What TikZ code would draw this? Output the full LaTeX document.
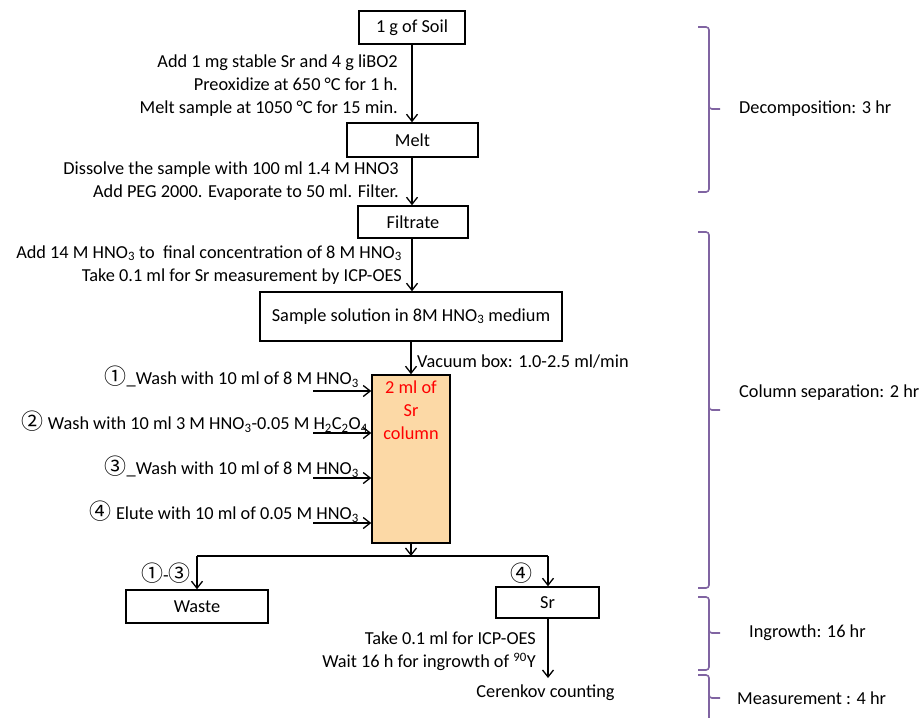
\documentclass[tikz,border=0pt]{standalone}
\usepackage{fontspec}
\setmainfont{Carlito}
\newfontfamily\circfont[Scale=1.2]{Noto Sans CJK JP}
\usetikzlibrary{arrows.meta}
\definecolor{colfill}{HTML}{FCD9A6}
\definecolor{bracecol}{HTML}{8064A2}
\newcommand{\cn}[1]{{\circfont #1}}
\newcommand{\sub}[1]{\textsubscript{#1}}
\begin{document}
\begin{tikzpicture}[x=1pt,y=-1pt,
  font=\fontsize{18.3}{23}\selectfont,
  box/.style={draw=black,line width=1.5pt,minimum height=#1,inner sep=0pt},
  box/.default=33pt,
  lbl/.style={inner sep=0pt,align=right},
  flow/.style={line width=1.5pt,-{Straight Barb[length=7pt,width=11pt,line width=1.3pt]}},
  plain/.style={line width=1.5pt},
  brace/.style={draw=bracecol,line width=1.6pt,rounded corners=3pt},
  btext/.style={inner sep=0pt,anchor=west}]
\useasboundingbox (0,0) rectangle (920,718);

% boxes
\node[box=33pt,minimum width=106pt] (soil) at (412,27.5) {1 g of Soil};
\node[box=34pt,minimum width=131pt] (melt) at (412.5,140) {Melt};
\node[box=32pt,minimum width=110pt] (filt) at (413,222) {Filtrate};
\node[box=49pt,minimum width=302pt] (sample) at (411,316.5) {Sample solution in 8M HNO\sub{3} medium};
\node[box=168pt,minimum width=78pt,fill=colfill] (column) at (411,459) {};
\node[inner sep=0pt,align=center,text=red] (coltext) at (411,410) {2 ml of\\Sr\\column};
\node[box=33pt,minimum width=142pt] (waste) at (197,606.5) {Waste};
\node[box=31pt,minimum width=103pt] (sr) at (547.5,602.5) {Sr};
\node[inner sep=0pt] (ceren) at (545.5,693) {Cerenkov counting};

% step labels
\node[lbl,anchor=east] (t1) at (398,86) {Add 1 mg stable Sr and 4 g liBO2\\Preoxidize at 650 °C for 1 h.\\Melt sample at 1050 °C for 15 min.};
\node[lbl,anchor=east] (t2) at (399,181.5) {Dissolve the sample with 100 ml 1.4 M HNO3\\Add PEG 2000. Evaporate to 50 ml. Filter.};
\node[lbl,anchor=east] (t3) at (402,265) {Add 14 M HNO\sub{3} to\ \ final concentration of 8 M HNO\sub{3}\\Take 0.1 ml for Sr measurement by ICP-OES};
\node[inner sep=0pt,anchor=west] (vac) at (417,362) {Vacuum box: 1.0-2.5 ml/min};
\node[lbl,anchor=east] (w1) at (359,377) {\cn{①}\_Wash with 10 ml of 8 M HNO\sub{3}};
\node[lbl,anchor=east] (w2) at (368,422) {\cn{②} Wash with 10 ml 3 M HNO\sub{3}-0.05 M H\sub{2}C\sub{2}O\sub{4}};
\node[lbl,anchor=east] (w3) at (359,467) {\cn{③}\_Wash with 10 ml of 8 M HNO\sub{3}};
\node[lbl,anchor=east] (w4) at (359,512) {\cn{④} Elute with 10 ml of 0.05 M HNO\sub{3}};
\node[inner sep=0pt] (l13) at (166,573) {\cn{①}-\cn{③}};
\node[inner sep=0pt] (l4) at (521,573) {\cn{④}};
\node[lbl,anchor=east] (t4) at (536,651) {Take 0.1 ml for ICP-OES\\Wait 16 h for ingrowth of \textsuperscript{90}Y};

% wash arrows
\coordinate (a1) at (313,391);
\coordinate (a2) at (313,433);
\coordinate (a3) at (313,478);
\coordinate (a4) at (313,523);
\foreach \a in {a1,a2,a3,a4}
  \draw[flow] (\a) -- (column.west |- \a);

% vertical flow
\draw[flow] (soil.south) -- (soil.south |- melt.north);
\draw[flow] (melt.south -| soil.south) -- (soil.south |- filt.north);
\draw[flow] (filt.south -| soil.south) -- (soil.south |- sample.north);
\draw[flow] (sample.south) -- (column.north);

% branch
\coordinate (jl) at (197,556);
\coordinate (jr) at (548,556);
\draw[flow] (column.south) -- (column.south |- jl);
\draw[plain] (jl) -- (jr);
\draw[flow] (jl) -- (waste.north);
\draw[flow] (jr) -- (jr |- sr.north);
\coordinate (cend) at (548,678);
\draw[flow] (jr |- sr.south) -- (cend);

% braces
\draw[brace] (698,27) -| (709,109) -- (720,109);
\draw[brace] (709,105) |- (698,192);
\draw[brace] (698,232) -| (709,410) -- (720,410);
\draw[brace] (709,406) |- (698,588);
\draw[brace] (698,597) -| (709,633) -- (720,633);
\draw[brace] (709,629) |- (698,670);
\draw[brace] (698,675) -| (709,698) -- (720,698);
\draw[brace] (709,694) -- (709,718);

\node[btext] (b1) at (739,109) {Decomposition: 3 hr};
\node[btext] (b2) at (739,393) {Column separation: 2 hr};
\node[btext] (b3) at (749,633) {Ingrowth: 16 hr};
\node[btext] (b4) at (737,698) {Measurement : 4 hr};
\end{tikzpicture}
\end{document}
